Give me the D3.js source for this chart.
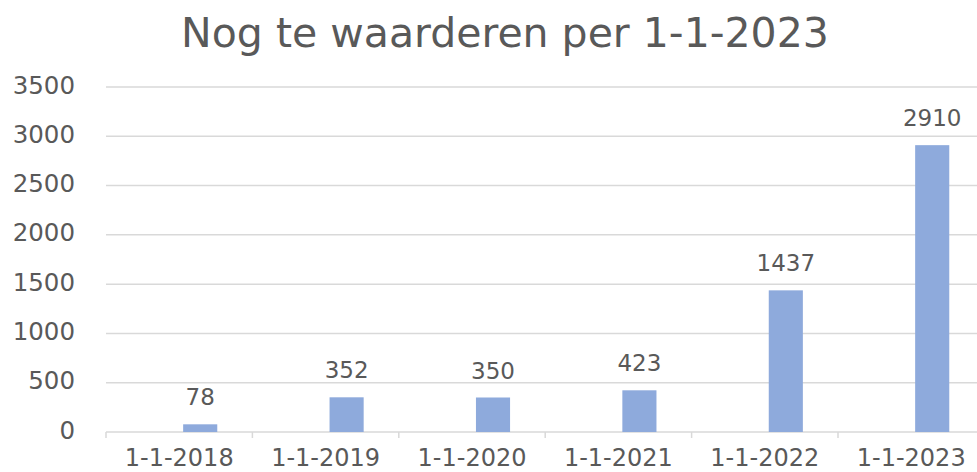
<!DOCTYPE html>
<html><head><meta charset="utf-8">
<script src="https://cdn.jsdelivr.net/npm/d3@7"></script>
<style>body{margin:0;background:#fff;} text{font-family:"DejaVu Sans",sans-serif;fill:#595959;}</style>
</head><body>
<svg id="chart" width="977" height="472"></svg>
<script>
const title = "Nog te waarderen per 1-1-2023";
const categories = ["1-1-2018","1-1-2019","1-1-2020","1-1-2021","1-1-2022","1-1-2023"];
const values = [78, 352, 350, 423, 1437, 2910];
const yTicks = [0,500,1000,1500,2000,2500,3000,3500];

const svg = d3.select("#chart");
const mLeft = 106, mBottom = 432, mTop = 87, mRight = 984.4;
const x = d3.scaleBand().domain(categories).range([mLeft, mRight]).padding(0);
const y = d3.scaleLinear().domain([0,3500]).range([mBottom, mTop]);
const grid = "#d9d9d9";

// gridlines
svg.append("g").selectAll("line").data(yTicks.filter(d=>d>0)).join("line")
  .attr("x1", mLeft).attr("x2", mRight).attr("y1", d=>y(d)).attr("y2", d=>y(d))
  .attr("stroke", grid).attr("stroke-width", 1.5);

// y labels
svg.append("g").selectAll("text").data(yTicks).join("text")
  .attr("x", 75).attr("y", d=>y(d)+6.5).attr("text-anchor","end")
  .attr("font-size", 24.5).text(d=>d);

// x axis
const gx = svg.append("g").attr("transform", `translate(0,${mBottom})`);
gx.append("line").attr("x1", mLeft).attr("x2", mRight).attr("stroke", grid).attr("stroke-width", 1.5);
const bounds = categories.map(c=>x(c)).concat([mRight]);
gx.selectAll("line.tk").data(bounds).join("line").attr("class","tk")
  .attr("x1", d=>d).attr("x2", d=>d).attr("y1",0).attr("y2",6)
  .attr("stroke", grid).attr("stroke-width", 1.5);
gx.selectAll("text.lbl").data(categories).join("text").attr("class","lbl")
  .attr("x", d=>x(d)+x.bandwidth()/2).attr("y", 33.5).attr("text-anchor","middle")
  .attr("font-size", 24).text(d=>d);

// bars
const bw = x.bandwidth();
const barW = bw*0.233, barOff = bw*0.527;
svg.append("g").selectAll("rect").data(values).join("rect")
  .attr("x", (d,i)=>x(categories[i])+barOff).attr("width", barW)
  .attr("y", d=>y(d)).attr("height", d=>mBottom-y(d))
  .attr("fill", "#8eaadc");

// data labels
svg.append("g").selectAll("text").data(values).join("text")
  .attr("x", (d,i)=>x(categories[i])+barOff+barW/2).attr("y", d=>y(d)-19)
  .attr("text-anchor","middle").attr("font-size", 23).text(d=>d);

// title
svg.append("text").attr("x", 505).attr("y", 47).attr("text-anchor","middle")
  .attr("font-size", 41).text(title);
</script>
</body></html>
